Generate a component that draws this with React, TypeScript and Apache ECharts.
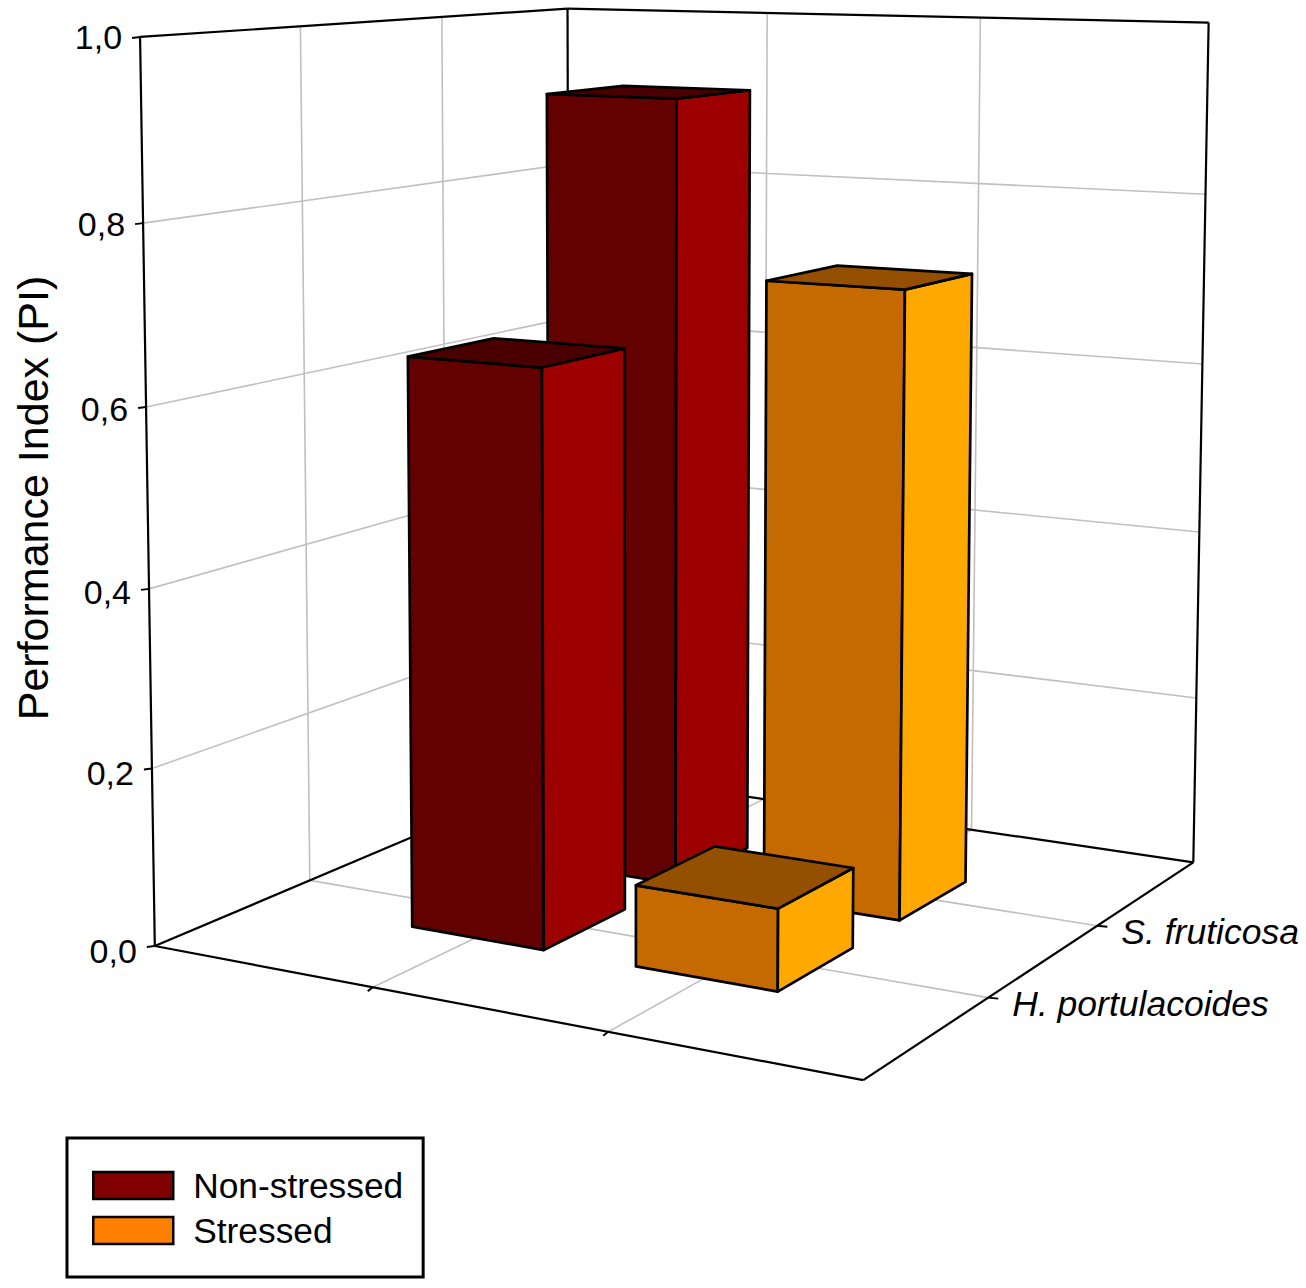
import React, { useEffect, useRef } from "react";
import * as echarts from "echarts";

const W = 1306;
const H = 1288;
const seriesNames = ["Non-stressed", "Stressed"];
const depthCategories = ["H. portulacoides", "S. fruticosa"];
const yTickValues = [0, 0.2, 0.4, 0.6, 0.8, 1.0];
const yTickLabels = ["0,0", "0,2", "0,4", "0,6", "0,8", "1,0"];
const nonStressedValues = [0.645, 0.918];
const stressedValues = [0.09, 0.716];
const xTicks = [1, 2];
const depthTicks = [1, 2];

// Box frame calibration: cube corner -> pixel of the 3D view
const calibration: number[][] = [
  [0, 0, 0, 157, 947],
  [1, 0, 0, 862, 1080],
  [0, 1, 0, 567, 770],
  [1, 1, 0, 1195, 862],
  [0, 0, 1, 139, 36],
  [0, 1, 1, 569, 9],
  [1, 1, 1, 1208, 23],
];

function solveCamera(points: number[][]) {
  const A: number[][] = [];
  const b: number[] = [];
  points.forEach(([X, Y, Z, x, y]) => {
    A.push([X, Y, Z, 1, 0, 0, 0, 0, -x * X, -x * Y, -x * Z]);
    b.push(x);
    A.push([0, 0, 0, 0, X, Y, Z, 1, -y * X, -y * Y, -y * Z]);
    b.push(y);
  });
  const n = 11;
  const M: number[][] = [];
  for (let i = 0; i < n; i++) {
    const row: number[] = [];
    for (let j = 0; j < n; j++) {
      let s = 0;
      for (let k = 0; k < A.length; k++) s += A[k][i] * A[k][j];
      row.push(s);
    }
    let r = 0;
    for (let k = 0; k < A.length; k++) r += A[k][i] * b[k];
    row.push(r);
    M.push(row);
  }
  for (let c = 0; c < n; c++) {
    let p = c;
    for (let i = c + 1; i < n; i++) if (Math.abs(M[i][c]) > Math.abs(M[p][c])) p = i;
    [M[c], M[p]] = [M[p], M[c]];
    for (let i = 0; i < n; i++) {
      if (i === c) continue;
      const f = M[i][c] / M[c][c];
      for (let j = c; j <= n; j++) M[i][j] -= f * M[c][j];
    }
  }
  return M.map((row, i) => row[n] / row[i]);
}

const cam = solveCamera(calibration);

// u: 0..3 along the front edge, v: 0..3 in depth, h: value 0..1
function project(u: number, v: number, h: number): number[] {
  const X = u / 3;
  const Y = v / 3;
  const d = cam[8] * X + cam[9] * Y + cam[10] * h + 1;
  return [
    (cam[0] * X + cam[1] * Y + cam[2] * h + cam[3]) / d,
    (cam[4] * X + cam[5] * Y + cam[6] * h + cam[7]) / d,
  ];
}

const BAR_LEFT = 0.29;
const BAR_RIGHT = 0.307;
const BAR_NEAR = 0.315;
const BAR_FAR = 0.285;

function barRenderer(front: string, side: string, top: string) {
  return (_params: any, api: any) => {
    const u = api.value(0);
    const v = api.value(1);
    const val = api.value(2);
    const c = (a: number, b: number, h: number) => api.coord(project(a, b, h));
    const u0 = u - BAR_LEFT;
    const u1 = u + BAR_RIGHT;
    const v0 = v - BAR_NEAR;
    const v1 = v + BAR_FAR;
    const style = (fill: string) => ({ fill, stroke: "#000", lineWidth: 2.7, lineJoin: "round" });
    return {
      type: "group",
      children: [
        { type: "polygon", shape: { points: [c(u0, v0, 0), c(u1, v0, 0), c(u1, v0, val), c(u0, v0, val)] }, style: style(front) },
        { type: "polygon", shape: { points: [c(u1, v0, 0), c(u1, v1, 0), c(u1, v1, val), c(u1, v0, val)] }, style: style(side) },
        { type: "polygon", shape: { points: [c(u0, v0, val), c(u1, v0, val), c(u1, v1, val), c(u0, v1, val)] }, style: style(top) },
      ],
    };
  };
}

function frameRenderer(_params: any, api: any) {
  const children: any[] = [];
  const line = (a: number[], b: number[], stroke: string, lineWidth: number) => {
    const p = api.coord(a);
    const q = api.coord(b);
    children.push({ type: "line", shape: { x1: p[0], y1: p[1], x2: q[0], y2: q[1] }, style: { stroke, lineWidth } });
  };
  const GRID = "#c0c0c0";
  const BLACK = "#000";
  // gridlines
  yTickValues.slice(1, -1).forEach((h) => {
    line(project(0, 0, h), project(0, 3, h), GRID, 1.6);
    line(project(0, 3, h), project(3, 3, h), GRID, 1.6);
  });
  depthTicks.forEach((v) => {
    line(project(0, v, 0), project(0, v, 1), GRID, 1.6);
    line(project(0, v, 0), project(3, v, 0), GRID, 1.6);
  });
  xTicks.forEach((u) => {
    line(project(u, 3, 0), project(u, 3, 1), GRID, 1.6);
    line(project(u, 0, 0), project(u, 3, 0), GRID, 1.6);
  });
  // frame
  line(project(0, 0, 0), project(0, 0, 1), BLACK, 2.2);
  line(project(0, 0, 1), project(0, 3, 1), BLACK, 2.2);
  line(project(0, 3, 1), project(3, 3, 1), BLACK, 2.2);
  line(project(3, 3, 1), project(3, 3, 0), BLACK, 2.2);
  line(project(0, 3, 0), project(0, 3, 1), BLACK, 2.2);
  line(project(0, 0, 0), project(0, 3, 0), BLACK, 2.2);
  line(project(0, 3, 0), project(3, 3, 0), BLACK, 2.2);
  line(project(0, 0, 0), project(3, 0, 0), BLACK, 2.2);
  line(project(3, 0, 0), project(3, 3, 0), BLACK, 2.2);
  // value ticks and labels
  yTickValues.forEach((h, i) => {
    const p = project(0, 0, h);
    line(p, [p[0] - 8, p[1] + 1], BLACK, 2);
    const q = api.coord([p[0] - 18, p[1] + 5 * (1 - h)]);
    children.push({
      type: "text",
      style: { text: yTickLabels[i], x: q[0], y: q[1], align: "right", verticalAlign: "middle", font: "34px 'Liberation Sans'", fill: "#000" },
    });
  });
  xTicks.forEach((u) => {
    const p = project(u, 0, 0);
    line(p, [p[0] - 5, p[1] + 4], BLACK, 2);
  });
  depthTicks.forEach((v, i) => {
    const p = project(3, v, 0);
    line(p, [p[0] + 10, p[1] + 1], BLACK, 2);
    const q = api.coord([p[0] + 24, p[1] + 6]);
    children.push({
      type: "text",
      style: { text: depthCategories[i], x: q[0], y: q[1], align: "left", verticalAlign: "middle", font: "italic 35.5px 'Liberation Sans'", fill: "#000" },
    });
  });
  return { type: "group", children };
}

export default function App() {
  const ref = useRef<HTMLDivElement>(null);
  useEffect(() => {
    const chart = echarts.init(ref.current!, undefined, { renderer: "svg" });
    const toData = (vals: number[], u: number) => vals.map((val, i) => [u, depthTicks[i], val]).reverse();
    chart.setOption({
      animation: false,
      backgroundColor: "#fff",
      grid: { left: 0, right: 0, top: 0, bottom: 0 },
      xAxis: { type: "value", min: 0, max: W, show: false },
      yAxis: { type: "value", min: 0, max: H, inverse: true, show: false },
      legend: {
        data: seriesNames,
        left: 67,
        top: 1138,
        orient: "vertical",
        align: "left",
        icon: "rect",
        itemWidth: 80,
        itemHeight: 27,
        itemGap: 10,
        padding: [30, 20, 29, 25],
        borderColor: "#000",
        borderWidth: 3,
        selectedMode: false,
        itemStyle: { borderColor: "#000", borderWidth: 2.5 },
        textStyle: { fontFamily: "Liberation Sans", fontSize: 35.3, color: "#000", padding: [0, 0, 0, 15] },
      },
      graphic: [
        {
          type: "text",
          x: 33,
          y: 498,
          rotation: Math.PI / 2,
          style: { text: "Performance Index (PI)", align: "center", verticalAlign: "middle", font: "43px 'Liberation Sans'", fill: "#000" },
        },
      ],
      series: [
        { type: "custom", name: "frame", coordinateSystem: "cartesian2d", clip: false, silent: true, data: [[0, 0, 0]], renderItem: frameRenderer, z: 1 },
        { type: "custom", name: seriesNames[0], coordinateSystem: "cartesian2d", clip: false, data: toData(nonStressedValues, xTicks[0]), itemStyle: { color: "#800000" }, renderItem: barRenderer("#630000", "#9c0000", "#4a0000"), z: 2 },
        { type: "custom", name: seriesNames[1], coordinateSystem: "cartesian2d", clip: false, data: toData(stressedValues, xTicks[1]), itemStyle: { color: "#ff8000" }, renderItem: barRenderer("#c46a00", "#ffa800", "#945000"), z: 3 },
      ],
    });
    return () => chart.dispose();
  }, []);
  return <div ref={ref} style={{ position: "fixed", left: 0, top: 0, width: W, height: H }} />;
}
